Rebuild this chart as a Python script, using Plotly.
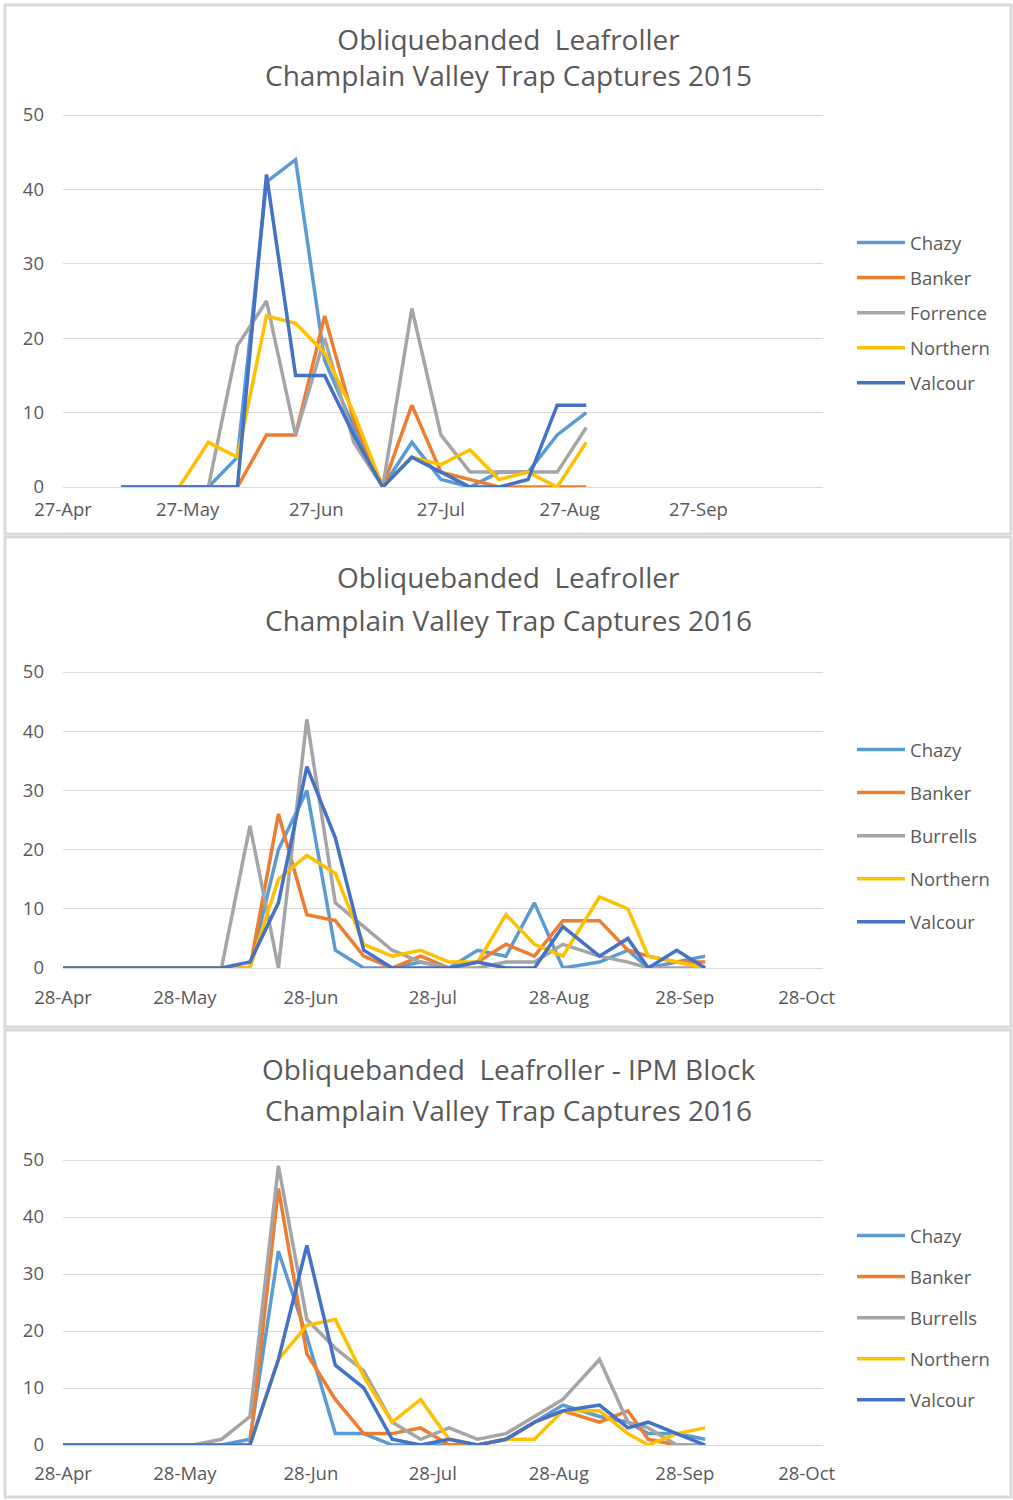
import plotly.graph_objects as go

# ---------------- data ----------------
SERIES_COLORS = ["#5B9BD5", "#ED7D31", "#A5A5A5", "#FFC000", "#4472C4"]

# Panel 1 : 2015
dates_2015 = ["2015-05-11", "2015-05-18", "2015-05-25", "2015-06-01", "2015-06-08",
              "2015-06-15", "2015-06-22", "2015-06-29", "2015-07-06", "2015-07-13",
              "2015-07-20", "2015-07-27", "2015-08-03", "2015-08-10", "2015-08-17",
              "2015-08-24", "2015-08-31"]
names_2015 = ["Chazy", "Banker", "Forrence", "Northern", "Valcour"]
chazy_2015 = [0, 0, 0, 0, 4, 41, 44, 17, 8, 0, 6, 1, 0, 2, 2, 7, 10]
banker_2015 = [0, 0, 0, 0, 0, 7, 7, 23, 9, 0, 11, 2, 1, 0, 0, 0, 0]
forrence_2015 = [0, 0, 0, 0, 19, 25, 7, 20, 6, 0, 24, 7, 2, 2, 2, 2, 8]
northern_2015 = [0, 0, 0, 6, 4, 23, 22, 18, 10, 0, 4, 3, 5, 1, 2, 0, 6]
valcour_2015 = [0, 0, 0, 0, 0, 42, 15, 15, 7, 0, 4, 2, 0, 0, 1, 11, 11]
ticks_2015 = ["2015-04-27", "2015-05-27", "2015-06-27", "2015-07-27", "2015-08-27", "2015-09-27"]
ticktext_2015 = ["27-Apr", "27-May", "27-Jun", "27-Jul", "27-Aug", "27-Sep"]

# Panels 2 & 3 : 2016
dates_2016 = ["2016-04-28", "2016-05-02", "2016-05-09", "2016-05-16", "2016-05-23",
              "2016-05-30", "2016-06-06", "2016-06-13", "2016-06-20", "2016-06-27",
              "2016-07-04", "2016-07-11", "2016-07-18", "2016-07-25", "2016-08-01",
              "2016-08-08", "2016-08-15", "2016-08-22", "2016-08-29", "2016-09-07",
              "2016-09-14", "2016-09-19", "2016-09-26", "2016-10-03"]
names_2016 = ["Chazy", "Banker", "Burrells", "Northern", "Valcour"]
chazy_2016 = [0, 0, 0, 0, 0, 0, 0, 0, 20, 30, 3, 0, 0, 1, 0, 3, 2, 11, 0, 1, 3, 0, 1, 2]
banker_2016 = [0, 0, 0, 0, 0, 0, 0, 0, 26, 9, 8, 2, 0, 2, 0, 1, 4, 2, 8, 8, 3, 2, 1, 1]
burrells_2016 = [0, 0, 0, 0, 0, 0, 0, 24, 0, 42, 11, 7, 3, 1, 0, 0, 1, 1, 4, 2, 1, 0, 0, 0]
northern_2016 = [0, 0, 0, 0, 0, 0, 0, 0, 15, 19, 16, 4, 2, 3, 1, 1, 9, 4, 2, 12, 10, 2, 1, 0]
valcour_2016 = [0, 0, 0, 0, 0, 0, 0, 1, 11, 34, 22, 3, 0, 0, 0, 1, 0, 0, 7, 2, 5, 0, 3, 0]

# Panel 3 : IPM block 2016
chazy_ipm = [0, 0, 0, 0, 0, 0, 0, 1, 34, 19, 2, 2, 0, 0, 0, 0, 1, 4, 7, 5, 4, 2, 2, 1]
banker_ipm = [0, 0, 0, 0, 0, 0, 0, 0, 45, 16, 8, 2, 2, 3, 0, 0, 1, 4, 6, 4, 6, 1, 0, 0]
burrells_ipm = [0, 0, 0, 0, 0, 0, 1, 5, 49, 22, 17, 13, 4, 1, 3, 1, 2, 5, 8, 15, 4, 3, 0, 0]
northern_ipm = [0, 0, 0, 0, 0, 0, 0, 0, 15, 21, 22, 12, 4, 8, 1, 0, 1, 1, 6, 6, 2, 0, 2, 3]
valcour_ipm = [0, 0, 0, 0, 0, 0, 0, 0, 15, 35, 14, 10, 1, 0, 1, 0, 1, 4, 6, 7, 3, 4, 2, 0]
ticks_2016 = ["2016-04-28", "2016-05-28", "2016-06-28", "2016-07-28", "2016-08-28",
              "2016-09-28", "2016-10-28"]
ticktext_2016 = ["28-Apr", "28-May", "28-Jun", "28-Jul", "28-Aug", "28-Sep", "28-Oct"]

y_ticks = [0, 10, 20, 30, 40, 50]

titles = [
    ["Obliquebanded  Leafroller", "Champlain Valley Trap Captures 2015"],
    ["Obliquebanded  Leafroller", "Champlain Valley Trap Captures 2016"],
    ["Obliquebanded  Leafroller - IPM Block", "Champlain Valley Trap Captures 2016"],
]

# ---------------- layout helpers ----------------
W, H = 1013, 1500
FONT = "Open Sans, Liberation Sans, sans-serif"
TXT = "#595959"
GRID = "#D9D9D9"
PAD = 3  # px of headroom so the top gridline is drawn


def px(x):
    return x / W


def py(y):
    return 1 - y / H


panels = [
    dict(x=dates_2015, names=names_2015,
         ys=[chazy_2015, banker_2015, forrence_2015, northern_2015, valcour_2015],
         ticks=ticks_2015, ticktext=ticktext_2015, rng=["2015-04-27", "2015-10-27"],
         top=115, bottom=487, box=(5, 5, 1011, 534), title_y=[57], joined=True,
         tsize=28, leg_top=224, gap=8, xstand=9),
    dict(x=dates_2016, names=names_2016,
         ys=[chazy_2016, banker_2016, burrells_2016, northern_2016, valcour_2016],
         ticks=ticks_2016, ticktext=ticktext_2016, rng=["2016-04-28", "2016-11-01"],
         top=672, bottom=968, box=(5, 537, 1011, 1027), title_y=[577, 620], joined=False,
         tsize=28, leg_top=731, gap=16, xstand=16),
    dict(x=dates_2016, names=names_2016,
         ys=[chazy_ipm, banker_ipm, burrells_ipm, northern_ipm, valcour_ipm],
         ticks=ticks_2016, ticktext=ticktext_2016, rng=["2016-04-28", "2016-11-01"],
         top=1160, bottom=1445, box=(5, 1030, 1011, 1497), title_y=[1069, 1110], joined=False,
         tsize=28, leg_top=1217, gap=14, xstand=15),
]

fig = go.Figure()
layout = dict(width=W, height=H, margin=dict(l=0, r=0, t=0, b=0, autoexpand=False),
              paper_bgcolor="white", plot_bgcolor="white", autosize=False,
              font=dict(family=FONT, color=TXT), showlegend=True)
shapes = []
annotations = []

for i, p in enumerate(panels):
    k = "" if i == 0 else str(i + 1)
    xa, ya, lg = "x" + k, "y" + k, "legend" + k
    for j, (name, yv) in enumerate(zip(p["names"], p["ys"])):
        fig.add_trace(go.Scatter(
            x=p["x"], y=yv, name=name, mode="lines",
            line=dict(color=SERIES_COLORS[j], width=3.5),
            xaxis=xa, yaxis=ya, legend=lg, legendgroup=f"p{i}_{name}",
        ))
    ppu = (p["bottom"] - p["top"]) / 50.0
    layout["xaxis" + k] = dict(
        domain=[px(63), px(823)], anchor=ya, type="date", range=p["rng"],
        tickvals=p["ticks"], ticktext=p["ticktext"], showgrid=False,
        showline=False, zeroline=False, ticks="", ticklabelstandoff=p["xstand"],
        automargin=False, fixedrange=True,
        tickfont=dict(size=18.5, color=TXT, family=FONT),
    )
    layout["yaxis" + k] = dict(
        domain=[py(p["bottom"]), py(p["top"] - PAD)], anchor=xa,
        range=[0, 50 + PAD / ppu],
        tickvals=y_ticks, showgrid=True, gridcolor=GRID, gridwidth=1,
        zeroline=True, zerolinecolor=GRID, zerolinewidth=1, showline=False,
        ticks="", ticklabelstandoff=18, automargin=False, fixedrange=True,
        tickfont=dict(size=18.5, color=TXT, family=FONT),
    )
    layout[lg] = dict(
        x=px(852), y=py(p["leg_top"]), xanchor="left", yanchor="top",
        bgcolor="rgba(0,0,0,0)", borderwidth=0, tracegroupgap=p["gap"],
        font=dict(size=18.5, color=TXT, family=FONT), itemwidth=48,
    )
    x0, y0, x1, y1 = p["box"]
    shapes.append(dict(type="rect", xref="paper", yref="paper",
                       x0=px(x0), x1=px(x1), y0=py(y1), y1=py(y0),
                       line=dict(color=GRID, width=3), fillcolor="rgba(0,0,0,0)"))
    if p["joined"]:
        texts = ["<br>".join(titles[i])]
    else:
        texts = titles[i]
    for line_text, ty in zip(texts, p["title_y"]):
        annotations.append(dict(text=line_text, xref="paper", yref="paper",
                                x=px(508), y=py(ty), xanchor="center", yanchor="middle",
                                showarrow=False, align="center",
                                font=dict(size=p["tsize"], color=TXT, family=FONT)))

layout["shapes"] = shapes
layout["annotations"] = annotations
fig.update_layout(**layout)
fig.write_html("out.html", config={"responsive": False, "displayModeBar": False},
               post_script="document.body.style.margin='0px';")
